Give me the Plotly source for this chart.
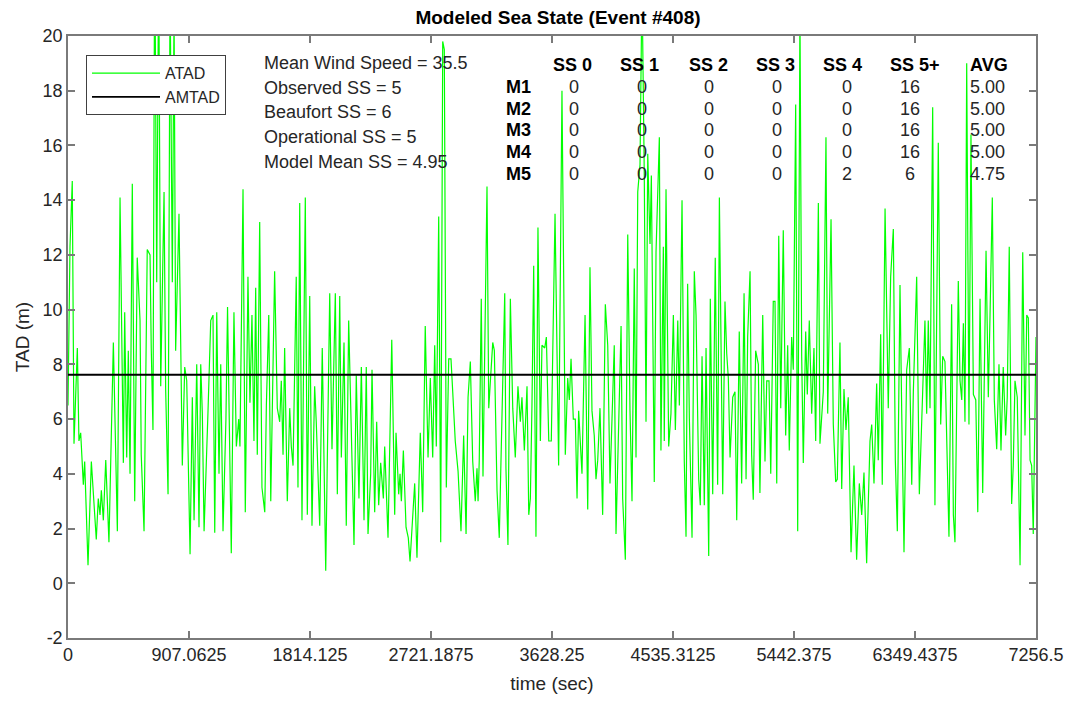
"""Modeled sea state chart (TAD time series) with Plotly."""

import plotly.graph_objects as go

# ── Data ──────────────────────────────────────────────────────────────────────
time_sec = [
    0, 15, 32, 45, 70, 82, 95, 115, 125, 150, 175, 195, 212, 227, 240, 250, 265, 283, 307, 340,
    370, 390, 415, 425, 440, 452, 465, 482, 500, 519, 540, 549, 570, 594, 615, 624, 637, 650, 665, 680,
    695, 710, 720, 732, 750, 765, 782, 795, 807, 832, 857, 875, 890, 915, 932, 945, 965, 982, 995, 1007,
    1020, 1049, 1070, 1087, 1100, 1115, 1132, 1145, 1162, 1184, 1196, 1224, 1244, 1262, 1280, 1289, 1312, 1329, 1349, 1364,
    1379, 1394, 1407, 1419, 1437, 1454, 1475, 1487, 1505, 1520, 1537, 1549, 1569, 1587, 1599, 1612, 1624, 1644, 1662, 1674,
    1687, 1711, 1724, 1737, 1754, 1779, 1794, 1812, 1829, 1849, 1861, 1887, 1906, 1932, 1962, 1979, 2004, 2019, 2037, 2049,
    2069, 2086, 2104, 2124, 2144, 2161, 2181, 2199, 2219, 2236, 2249, 2269, 2279, 2299, 2314, 2329, 2344, 2364, 2374, 2399,
    2427, 2449, 2459, 2479, 2489, 2499, 2514, 2534, 2551, 2564, 2599, 2616, 2641, 2659, 2678, 2699, 2716, 2734, 2749, 2761,
    2779, 2794, 2809, 2821, 2836, 2854, 2871, 2884, 2903, 2924, 2946, 2966, 2984, 2999, 3016, 3034, 3053, 3066, 3074, 3083,
    3098, 3111, 3124, 3141, 3154, 3171, 3184, 3196, 3216, 3233, 3253, 3274, 3283, 3298, 3316, 3334, 3353, 3373, 3391, 3403,
    3421, 3441, 3454, 3466, 3478, 3491, 3508, 3523, 3541, 3553, 3574, 3586, 3604, 3623, 3651, 3678, 3703, 3728, 3746, 3758,
    3771, 3788, 3803, 3816, 3828, 3853, 3876, 3896, 3913, 3928, 3945, 3958, 3971, 3988, 4008, 4028, 4046, 4063, 4078, 4095,
    4108, 4133, 4146, 4158, 4178, 4196, 4213, 4228, 4245, 4258, 4271, 4288, 4303, 4320, 4333, 4346, 4363, 4373, 4383, 4395,
    4408, 4433, 4445, 4463, 4470, 4483, 4503, 4520, 4538, 4553, 4571, 4583, 4603, 4620, 4633, 4645, 4658, 4678, 4695, 4708,
    4728, 4740, 4753, 4770, 4783, 4803, 4815, 4833, 4852, 4870, 4883, 4908, 4925, 4938, 4950, 4963, 4983, 5000, 5013, 5032,
    5050, 5068, 5083, 5095, 5113, 5125, 5137, 5155, 5175, 5187, 5208, 5225, 5238, 5255, 5268, 5287, 5300, 5313, 5328, 5343,
    5362, 5380, 5395, 5407, 5425, 5437, 5455, 5470, 5487, 5500, 5512, 5530, 5542, 5557, 5575, 5592, 5605, 5625, 5637, 5662,
    5682, 5695, 5720, 5737, 5755, 5767, 5787, 5800, 5817, 5832, 5849, 5870, 5892, 5912, 5932, 5950, 5967, 5987, 6012, 6025,
    6042, 6062, 6074, 6092, 6104, 6125, 6149, 6167, 6187, 6202, 6217, 6237, 6250, 6267, 6287, 6307, 6325, 6337, 6362, 6382,
    6407, 6424, 6437, 6449, 6462, 6482, 6499, 6524, 6542, 6557, 6574, 6587, 6604, 6624, 6637, 6649, 6674, 6687, 6700, 6712,
    6724, 6737, 6754, 6769, 6787, 6805, 6820, 6837, 6857, 6882, 6899, 6912, 6929, 6944, 6962, 6979, 6994, 7011, 7029, 7041,
    7056, 7074, 7086, 7099, 7116, 7137, 7157, 7174, 7187, 7199, 7212, 7224, 7236, 7256.5,
]
atad = [
    6.5, 12.3, 14.7, 5.1, 8.6, 5.2, 5.5, 3.6, 4.45, 0.66, 4.45, 3.1, 1.6, 3.1, 2.5, 3.4, 2.3, 4.5, 1.5, 8.8,
    1.9, 14.1, 4.4, 9.9, 4.6, 8.5, 4.0, 14.6, 3.0, 11.9, 9.6, 4.7, 1.9, 12.2, 12.0, 8.6, 5.6, 24, 11.0, 23,
    7.2, 11.5, 14.3, 7.1, 3.25, 22, 11.0, 21, 8.5, 13.5, 4.3, 7.9, 7.4, 1.06, 6.8, 2.3, 8.0, 2.05, 8.0, 6.2,
    1.9, 6.2, 9.6, 9.8, 1.85, 9.9, 4.0, 8.0, 1.9, 6.0, 10.1, 1.1, 9.9, 5.0, 6.0, 5.0, 14.4, 2.6, 11.2, 6.6,
    9.8, 5.2, 10.8, 4.7, 13.2, 3.5, 2.6, 6.5, 9.8, 3.0, 9.1, 11.4, 6.4, 5.9, 7.4, 4.7, 8.6, 3.0, 6.4, 5.0,
    4.3, 11.2, 3.5, 13.9, 2.3, 14.1, 2.5, 10.5, 2.1, 7.2, 5.9, 2.1, 8.6, 0.46, 10.6, 4.9, 10.6, 3.25, 10.5, 4.6,
    8.8, 2.1, 9.6, 4.85, 1.4, 7.6, 3.1, 7.9, 2.3, 7.9, 1.8, 4.0, 7.8, 2.6, 5.9, 2.85, 4.4, 3.1, 5.0, 1.66,
    8.9, 2.5, 5.5, 3.25, 4.0, 3.0, 4.85, 2.05, 1.66, 0.8, 3.65, 0.93, 5.5, 2.6, 9.4, 4.6, 7.5, 4.6, 8.7, 5.0,
    13.4, 1.5, 19.8, 19.5, 3.5, 8.2, 8.2, 7.0, 5.2, 4.1, 1.9, 5.4, 1.8, 6.8, 8.1, 4.45, 3.0, 4.2, 3.0, 4.5,
    10.4, 3.9, 8.4, 14.5, 6.4, 7.8, 8.8, 8.5, 3.4, 1.66, 6.0, 10.6, 4.2, 1.4, 10.4, 6.4, 4.6, 7.2, 5.9, 6.8,
    4.85, 7.2, 2.5, 3.1, 6.5, 11.6, 1.7, 13.0, 5.2, 8.7, 8.6, 9.0, 5.2, 5.2, 13.5, 4.3, 18.0, 4.7, 7.5, 6.7,
    8.2, 6.0, 6.0, 3.1, 6.3, 4.0, 9.8, 2.7, 11.55, 6.3, 5.4, 3.8, 4.5, 6.4, 2.5, 10.2, 8.7, 3.65, 6.0, 8.7,
    1.8, 6.4, 9.4, 3.1, 0.86, 12.75, 6.3, 3.0, 11.5, 4.6, 14.3, 15.3, 22, 14.9, 5.9, 15.7, 12.4, 14.9, 10.5, 3.7,
    12.1, 16.3, 4.85, 12.3, 5.2, 14.4, 5.0, 6.2, 9.8, 5.6, 9.6, 6.5, 14.0, 4.45, 1.7, 10.95, 6.0, 1.66, 11.4, 9.8,
    3.8, 2.85, 8.3, 2.85, 8.6, 1.0, 10.4, 3.25, 11.9, 3.6, 14.1, 3.25, 10.3, 8.4, 7.5, 4.6, 6.8, 7.0, 2.3, 9.2,
    3.65, 10.6, 3.8, 9.0, 11.4, 4.7, 3.05, 8.5, 8.0, 3.3, 9.8, 4.45, 7.4, 7.4, 4.0, 10.3, 10.3, 3.65, 12.7, 6.4,
    12.9, 5.4, 8.7, 4.85, 9.0, 7.8, 17.5, 1.9, 21, 8.3, 4.4, 9.2, 6.9, 9.6, 6.2, 8.6, 5.2, 13.9, 5.1, 7.0,
    16.3, 6.2, 13.3, 5.8, 3.7, 3.8, 8.8, 3.45, 7.1, 5.6, 6.8, 1.13, 4.3, 0.86, 3.65, 2.5, 4.05, 0.73, 5.2, 5.8,
    3.65, 7.3, 4.5, 9.1, 3.6, 13.7, 6.4, 11.2, 12.95, 4.5, 1.9, 10.9, 6.2, 1.13, 7.8, 8.6, 3.6, 7.0, 11.2, 3.25,
    7.0, 9.6, 6.2, 9.6, 6.4, 17.4, 2.85, 16.1, 5.8, 8.3, 8.1, 5.5, 1.7, 10.2, 2.5, 1.5, 11.05, 7.4, 6.7, 9.5,
    5.9, 19.0, 5.8, 16.4, 6.9, 6.7, 2.6, 10.4, 3.3, 12.15, 6.8, 9.8, 14.1, 6.7, 4.9, 8.0, 4.85, 7.9, 5.4, 6.8,
    12.3, 2.9, 4.3, 7.4, 6.8, 0.66, 12.1, 5.4, 9.8, 9.7, 4.5, 4.3, 1.8, 9.0,
]
amtad = 7.62  # mean TAD

x_ticks = [0, 907.0625, 1814.125, 2721.1875, 3628.25, 4535.3125, 5442.375, 6349.4375, 7256.5]
x_tick_labels = ["0", "907.0625", "1814.125", "2721.1875", "3628.25",
                 "4535.3125", "5442.375", "6349.4375", "7256.5"]
y_ticks = [-2, 0, 2, 4, 6, 8, 10, 12, 14, 16, 18, 20]
y_tick_labels = ["-2", "0", "2", "4", "6", "8", "10", "12", "14", "16", "18", "20"]

info_lines = [
    "Mean Wind Speed = 35.5",
    "Observed SS = 5",
    "Beaufort SS = 6",
    "Operational SS = 5",
    "Model Mean SS = 4.95",
]

ss_headers = ["SS 0", "SS 1", "SS 2", "SS 3", "SS 4", "SS 5+", "AVG"]
model_names = ["M1", "M2", "M3", "M4", "M5"]
ss_counts = [
    [0, 0, 0, 0, 0, 16],
    [0, 0, 0, 0, 0, 16],
    [0, 0, 0, 0, 0, 16],
    [0, 0, 0, 0, 0, 16],
    [0, 0, 0, 0, 2, 6],
]
ss_avg = [5.00, 5.00, 5.00, 5.00, 4.75]

# ── Style ─────────────────────────────────────────────────────────────────────
_FONT = "Liberation Sans, Arial, Helvetica, sans-serif"
_TXT = "#262626"
_AXIS = "#7a7a7a"
_GREEN = "#00FF00"

fig = go.Figure()
fig.add_trace(go.Scatter(
    x=time_sec, y=atad, mode="lines", name="ATAD",
    line=dict(color=_GREEN, width=1.2),
))
fig.add_trace(go.Scatter(
    x=[x_ticks[0], x_ticks[-1]], y=[amtad, amtad], mode="lines", name="AMTAD",
    line=dict(color="#000000", width=1.8),
))

# info block (paper coords)
info_x = 0.2004
info_y = [0.955, 0.9136, 0.8738, 0.8322, 0.7907]
for txt, yy in zip(info_lines, info_y):
    fig.add_annotation(x=info_x, y=yy, xref="paper", yref="paper", text=txt,
                       showarrow=False, xanchor="left", yanchor="middle",
                       font=dict(size=18, color=_TXT))

# SS table
head_x = [0.5207, 0.5899, 0.6612, 0.7314, 0.8006, 0.8750, 0.9514]
val_x = [0.5227, 0.5930, 0.6622, 0.7324, 0.8048, 0.8698, 0.9504]
head_y = 0.9518
row_y = [0.9150, 0.8790, 0.8440, 0.8080, 0.7710]
for h, xx in zip(ss_headers, head_x):
    fig.add_annotation(x=xx, y=head_y, xref="paper", yref="paper", text=f"<b>{h}</b>",
                       showarrow=False, xanchor="center", yanchor="middle",
                       font=dict(size=18, color="#000000"))
for name, counts, avg, yy in zip(model_names, ss_counts, ss_avg, row_y):
    fig.add_annotation(x=0.4504, y=yy, xref="paper", yref="paper", text=f"<b>{name}</b>",
                       showarrow=False, xanchor="left", yanchor="middle",
                       font=dict(size=18, color="#000000"))
    cells = [str(c) for c in counts] + [f"{avg:.2f}"]
    for c, xx in zip(cells, val_x):
        fig.add_annotation(x=xx, y=yy, xref="paper", yref="paper", text=c,
                           showarrow=False, xanchor="center", yanchor="middle",
                           font=dict(size=18, color=_TXT))

axis_common = dict(
    showline=True, linecolor=_AXIS, linewidth=1.5, mirror="ticks",
    ticks="inside", ticklen=7, tickcolor=_AXIS, tickwidth=1.5,
    showgrid=False, zeroline=False,
    tickfont=dict(size=18, color=_TXT),
)

# page body adds an 8px offset, so the figure is shrunk to keep the axes in place
fig.update_layout(
    width=1064, height=694,
    template="plotly_white",
    paper_bgcolor="white", plot_bgcolor="white",
    font=dict(family=_FONT, color=_TXT),
    margin=dict(l=60, r=36, t=28, b=64, autoexpand=False),
    title=dict(text="<b>Modeled Sea State (Event #408)</b>", x=0.5169, xanchor="center",
               y=0.986, yanchor="middle", font=dict(size=19, color="#000000")),
    xaxis=dict(range=[x_ticks[0], x_ticks[-1]], tickvals=x_ticks, ticktext=x_tick_labels,
               title=dict(text="time (sec)", font=dict(size=19, color=_TXT), standoff=12),
               **axis_common),
    yaxis=dict(range=[-2, 20], tickvals=y_ticks, ticktext=y_tick_labels,
               title=dict(text="TAD (m)", font=dict(size=19, color=_TXT), standoff=8),
               **axis_common),
    showlegend=True,
    legend=dict(x=0.0186, y=0.968, xanchor="left", yanchor="top",
                bgcolor="white", bordercolor="#404040", borderwidth=1,
                font=dict(size=16, color=_TXT), itemwidth=68,
                tracegroupgap=0),
)

fig.write_html("out.html")
